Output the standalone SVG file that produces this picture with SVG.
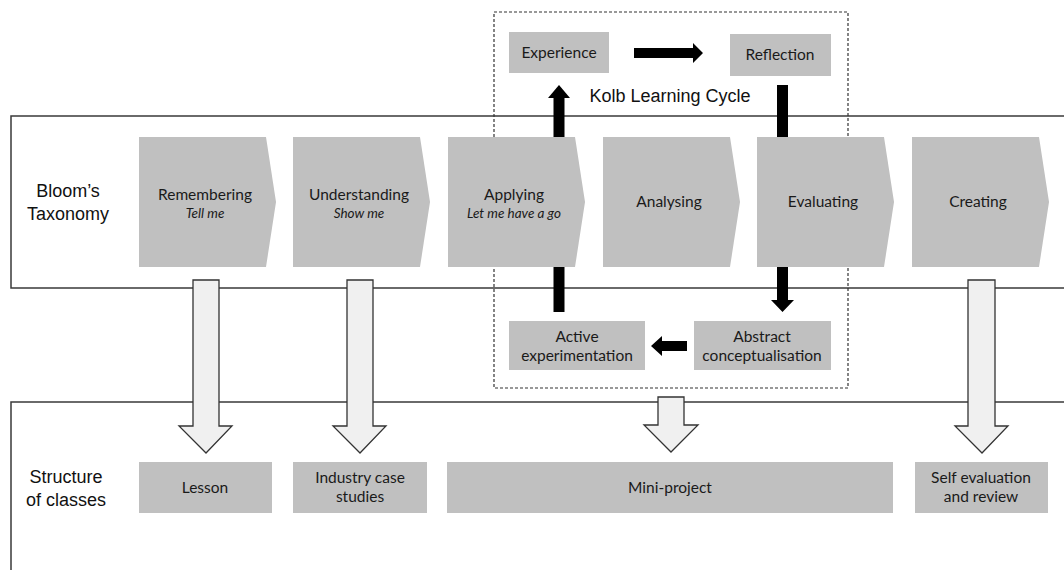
<svg xmlns="http://www.w3.org/2000/svg" width="1064" height="570" viewBox="0 0 1064 570">
  <style>
    .band { fill: #ffffff; stroke: #3a3a3a; stroke-width: 1.5; }
    .kolbframe { fill: none; stroke: #333; stroke-width: 1.2; stroke-dasharray: 3 2; }
    .stage { fill: #c0c0c0; }
    .box { fill: #c0c0c0; }
    .flow { fill: #f0f0f0; stroke: #333; stroke-width: 1.3; }
    .cycle { fill: #000; }
    .lbl { font-family: "Liberation Sans", Arial, sans-serif; font-size: 18px; fill: #111; text-anchor: middle; }
    .t { font-family: Lato, "Open Sans", sans-serif; font-size: 15.5px; fill: #1a1a1a; text-anchor: middle; }
    .it { font-style: italic; font-size: 13.5px; }
  </style>

  <!-- horizontal bands -->
  <g id="bloom-band">
    <path class="band" d="M1066,116 H11 V288 H1066"/>
    <text class="lbl" x="68" y="197">Bloom’s</text>
    <text class="lbl" x="68" y="220">Taxonomy</text>
  </g>
  <g id="classes-band">
    <path class="band" d="M1066,402 H11 V572"/>
    <text class="lbl" x="66" y="483">Structure</text>
    <text class="lbl" x="66" y="506">of classes</text>
  </g>

  <!-- Kolb cycle frame -->
  <g id="kolb-frame">
    <rect class="kolbframe" x="494" y="12" width="354" height="376"/>
    <text class="lbl" x="670" y="102">Kolb Learning Cycle</text>
  </g>

  <!-- Bloom stages -->
  <g id="remembering">
    <path class="stage" d="M139,137 H266 L276,202 L266,267 H139 Z"/>
    <text class="t" x="205" y="200">Remembering</text>
    <text class="t it" x="205" y="218">Tell me</text>
  </g>
  <g id="understanding">
    <path class="stage" d="M293,137 H420 L430,202 L420,267 H293 Z"/>
    <text class="t" x="359" y="200">Understanding</text>
    <text class="t it" x="359" y="218">Show me</text>
  </g>
  <g id="applying">
    <path class="stage" d="M448,137 H575 L585,202 L575,267 H448 Z"/>
    <text class="t" x="514" y="200">Applying</text>
    <text class="t it" x="514" y="218">Let me have a go</text>
  </g>
  <g id="analysing">
    <path class="stage" d="M603,137 H730 L740,202 L730,267 H603 Z"/>
    <text class="t" x="669" y="207">Analysing</text>
  </g>
  <g id="evaluating">
    <path class="stage" d="M757,137 H884 L894,202 L884,267 H757 Z"/>
    <text class="t" x="823" y="207">Evaluating</text>
  </g>
  <g id="creating">
    <path class="stage" d="M912,137 H1039 L1049,202 L1039,267 H912 Z"/>
    <text class="t" x="978" y="207">Creating</text>
  </g>

  <!-- Kolb stages -->
  <g id="experience">
    <rect class="box" x="509" y="32" width="100" height="41"/>
    <text class="t" x="559" y="58">Experience</text>
  </g>
  <g id="reflection">
    <rect class="box" x="730" y="34" width="101" height="42"/>
    <text class="t" x="780" y="60">Reflection</text>
  </g>
  <g id="active-experimentation">
    <rect class="box" x="509" y="321" width="136" height="49"/>
    <text class="t" x="577" y="342">Active</text>
    <text class="t" x="577" y="361">experimentation</text>
  </g>
  <g id="abstract-conceptualisation">
    <rect class="box" x="694" y="321" width="137" height="49"/>
    <text class="t" x="762" y="342">Abstract</text>
    <text class="t" x="762" y="361">conceptualisation</text>
  </g>

  <!-- class formats -->
  <g id="lesson">
    <rect class="box" x="139" y="462" width="133" height="51"/>
    <text class="t" x="205" y="493">Lesson</text>
  </g>
  <g id="case-studies">
    <rect class="box" x="293" y="462" width="134" height="51"/>
    <text class="t" x="360" y="483">Industry case</text>
    <text class="t" x="360" y="502">studies</text>
  </g>
  <g id="mini-project">
    <rect class="box" x="447" y="462" width="446" height="51"/>
    <text class="t" x="670" y="493">Mini-project</text>
  </g>
  <g id="self-evaluation">
    <rect class="box" x="915" y="462" width="133" height="51"/>
    <text class="t" x="981" y="483">Self evaluation</text>
    <text class="t" x="981" y="502">and review</text>
  </g>

  <!-- connectors -->
  <g id="connectors">
    <!-- Kolb cycle arrows -->
    <rect class="cycle" x="553.5" y="97" width="11" height="40"/>
    <polygon class="cycle" points="548,98 570,98 559,85"/>
    <rect class="cycle" x="553.5" y="267" width="11" height="45"/>
    <polygon class="cycle" points="634,48 693,48 693,43 703,53 693,63 693,58 634,58"/>
    <rect class="cycle" x="777" y="85" width="11" height="52"/>
    <polygon class="cycle" points="777,267 788,267 788,300 794,300 782.5,312 771,300 777,300"/>
    <polygon class="cycle" points="687,341 662,341 662,336 651,346 662,356 662,351 687,351"/>

    <!-- stage to class arrows -->
    <path class="flow" d="M193,280 H219 V426 H232 L206,453 L179,426 H193 Z"/>
    <path class="flow" d="M347,280 H373 V426 H386 L360,453 L333,426 H347 Z"/>
    <path class="flow" d="M658,397 H684 V425 H698 L671,452 L644,425 H658 Z"/>
    <path class="flow" d="M968,280 H995 V426 H1008 L982,453 L955,426 H968 Z"/>
  </g>
</svg>
